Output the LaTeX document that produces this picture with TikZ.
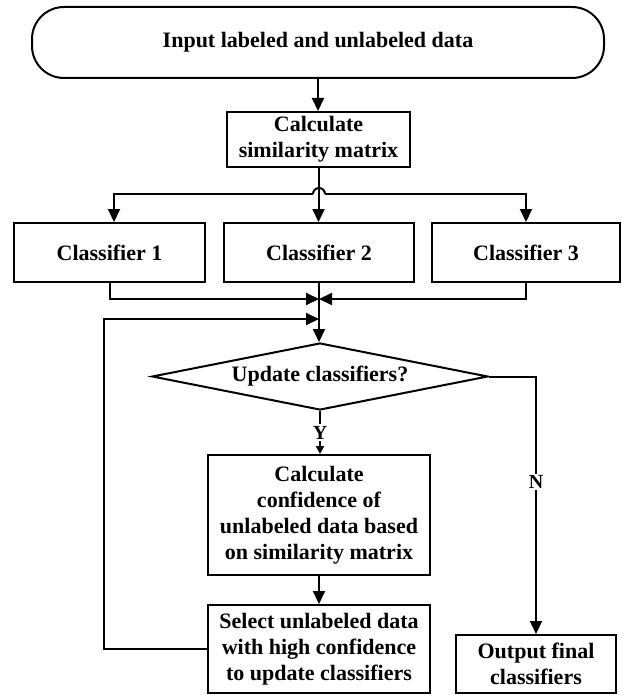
\documentclass[tikz,border=0pt]{standalone}
\usepackage{fontspec}
\setmainfont{Liberation Serif}
\usetikzlibrary{arrows.meta,shapes.geometric,calc}
\begin{document}
\begin{tikzpicture}[x=1pt,y=-1pt,
  every node/.style={font=\bfseries\fontsize{22}{26}\selectfont, align=center, inner sep=0pt},
  box/.style={draw, line width=2pt},
  arr/.style={line width=2pt, -{Triangle[length=13pt,width=12pt]}},
  sarr/.style={line width=2pt, -{Triangle[length=8pt,width=8pt]}},
  ln/.style={line width=2pt},
  lab/.style={fill=white, inner sep=1.5pt, font=\bfseries\fontsize{20}{24}\selectfont}]
\useasboundingbox (0,0) rectangle (621,695);
\node[box, rounded corners=32pt, minimum width=572pt, minimum height=71pt] (in) at (318,42.5) {Input labeled and unlabeled data};
\node[box, minimum width=183pt, minimum height=55pt] (sim) at (318.5,139.5) {Calculate\\similarity matrix};
\node[box, minimum width=191pt, minimum height=59pt] (c1) at (109.5,252.5) {Classifier 1};
\node[box, minimum width=190pt, minimum height=59pt] (c2) at (319,252.5) {Classifier 2};
\node[box, minimum width=188pt, minimum height=59pt] (c3) at (526,252.5) {Classifier 3};
\node[box, diamond, shape aspect=5, minimum width=336pt, minimum height=67pt] (d) at (320,376.5) {Update classifiers?};
\node[box, minimum width=222pt, minimum height=120pt] (conf) at (319,515) {Calculate\\confidence of\\unlabeled data based\\on similarity matrix};
\node[box, minimum width=222pt, minimum height=88pt] (sel) at (319,649) {Select unlabeled data\\with high confidence\\to update classifiers};
\node[box, minimum width=160pt, minimum height=58pt] (out) at (536,664) {Output final\\classifiers};
\coordinate (hl) at (313,194);
\coordinate (hr) at (325,194);
\coordinate (m) at (319,299);
\coordinate (lp) at (104,319);
\draw[arr] (in.south) -- (in.south |- sim.north);
\draw[arr] (sim.south) -- (sim.south |- c2.north);
\draw[ln] (hl) arc[start angle=180, end angle=0, radius=6pt];
\draw[arr] (hl) -| ([xshift=4.5pt]c1.north);
\draw[arr] (hr) -| (c3.north);
\draw[arr] (c1.south) |- (m);
\draw[arr] (c3.south) |- (m);
\draw[arr] (c2.south) -- (c2.south |- d.north);
\draw[arr] (sel.west) -| (lp) -- (lp -| m);
\draw[sarr] (d.south) -- node[lab] {Y} (d.south |- conf.north);
\draw[arr] (conf.south) -- (sel.north);
\draw[arr] (d.east) -| node[lab, pos=0.705] {N} (out.north);
\end{tikzpicture}
\end{document}
